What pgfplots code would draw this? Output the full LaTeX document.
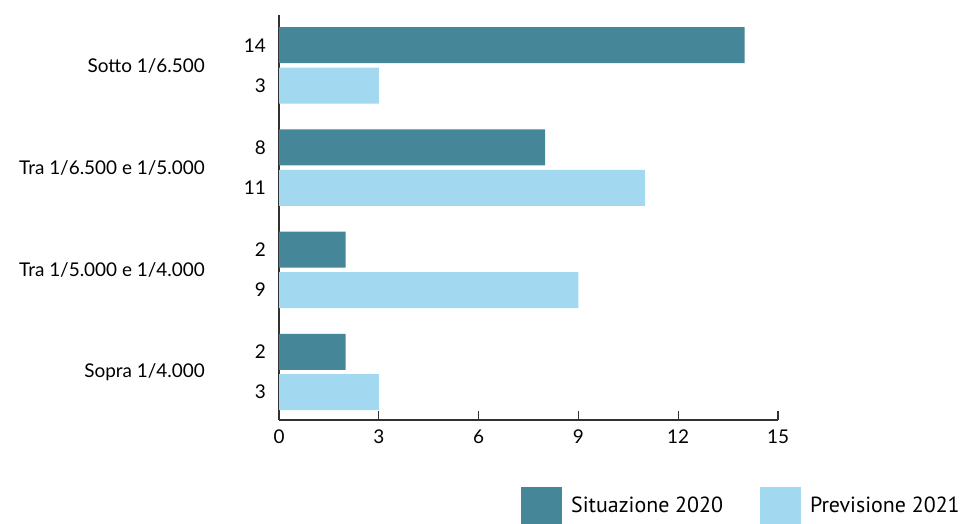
\documentclass[border=0pt]{standalone}
\usepackage{fontspec}
\setmainfont{Lato}
\newfontfamily\legfont{PT Sans}
\usepackage{pgfplots}
\usepackage{pgfplotstable}
\pgfplotsset{compat=1.18}
\definecolor{darkteal}{RGB}{69,135,152}
\definecolor{lightblue}{RGB}{163,216,241}
\definecolor{axisgray}{RGB}{50,50,50}
\pgfplotstableread{
g s p
0 14 3
1 8 11
2 2 9
3 2 3
}\datatable
\begin{document}
\begin{tikzpicture}
\path[use as bounding box] (0,0) rectangle (965bp,524bp);
\begin{axis}[
  at={(279bp,104bp)}, anchor=south west,
  scale only axis, width=499bp, height=405bp,
  clip=false,
  font=\fontsize{19}{22}\selectfont,
  /pgf/number format/assume math mode=true,
  axis lines*=left,
  axis line style={axisgray, line width=1.3pt},
  xmin=0, xmax=15, xtick={0,3,6,9,12,15},
  xtick align=inside, major tick length=9bp,
  xtick style={axisgray, line width=1.1pt},
  xticklabel style={inner sep=0pt, yshift=-10bp},
  y dir=reverse, ymin=-0.494, ymax=3.47,
  ytick={0,1,2,3},
  yticklabels={Sotto 1/6.500, Tra 1/6.500 e 1/5.000, Tra 1/5.000 e 1/4.000, Sopra 1/4.000},
  ytick style={draw=none},
  yticklabel style={anchor=east, inner sep=0pt, xshift=-74bp},
  legend columns=2,
  legend cell align=left,
  legend style={draw=none, fill=none, inner sep=0pt,
    at={(0.485,-0.257)}, anchor=south west,
    font=\legfont\fontsize{22}{24}\selectfont,
    nodes={inner sep=0pt},
    /tikz/every odd column/.append style={column sep=9bp},
    /tikz/every even column/.append style={column sep=37bp}},
  legend image code/.code={\fill[#1,draw=none] (0bp,-18.5bp) rectangle (41bp,18.5bp);},
]
\addplot[xbar, bar width=36bp, bar shift=0pt, fill=darkteal, draw=none]
  table[x=s, y expr=\thisrow{g}-0.198] {\datatable};
\addlegendentry{Situazione 2020}
\addplot[xbar, bar width=36bp, bar shift=0pt, fill=lightblue, draw=none]
  table[x=p, y expr=\thisrow{g}+0.198] {\datatable};
\addlegendentry{Previsione 2021}
\addplot[draw=none, forget plot, nodes near coords, point meta=explicit,
  every node near coord/.append style={anchor=east, inner sep=0pt, xshift=-13bp, yshift=0pt}]
  table[x expr=0, y expr=\thisrow{g}-0.198, meta=s] {\datatable};
\addplot[draw=none, forget plot, nodes near coords, point meta=explicit,
  every node near coord/.append style={anchor=east, inner sep=0pt, xshift=-13bp, yshift=0pt}]
  table[x expr=0, y expr=\thisrow{g}+0.198, meta=p] {\datatable};
\end{axis}
\end{tikzpicture}
\end{document}
